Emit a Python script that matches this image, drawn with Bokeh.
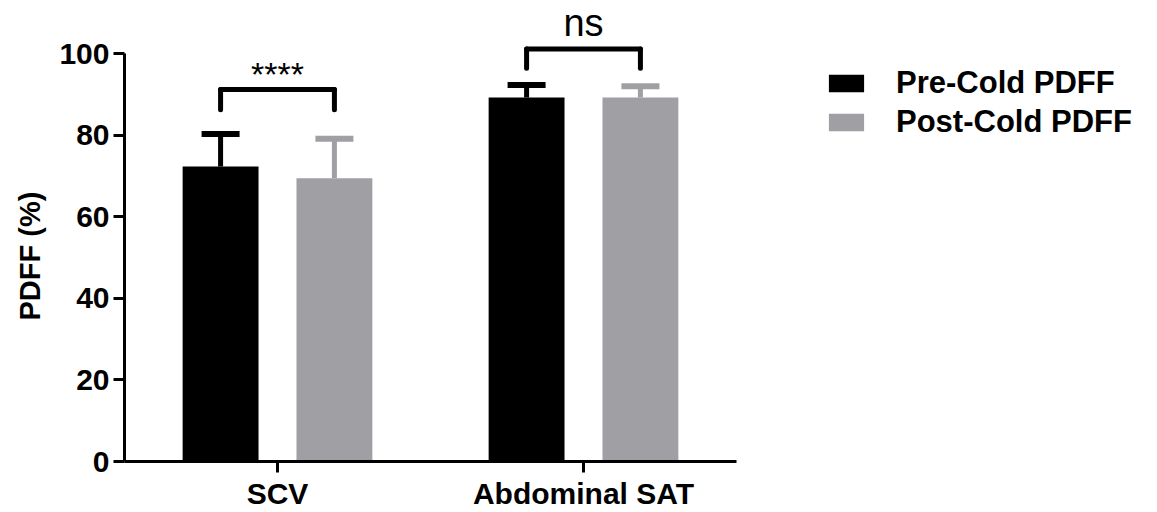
from bokeh.plotting import figure
from bokeh.models import (ColumnDataSource, Whisker, TeeHead, Legend, LegendItem,
                          Title, FixedTicker)
from bokeh.transform import dodge
from bokeh.core.properties import value
from bokeh.embed import file_html
from bokeh.resources import INLINE

# ---- data ----
categories = ["SCV", "Abdominal SAT"]
pre_mean = [72.3, 89.2]
pre_err = [8.0, 3.1]
post_mean = [69.4, 89.2]
post_err = [9.7, 2.8]
series_names = ["Pre-Cold PDFF", "Post-Cold PDFF"]
y_ticks = [0, 20, 40, 60, 80, 100]
sig_labels = ["****", "ns"]
bracket_top = [91.2, 101.1]
bracket_leg = [86.2, 96.4]
sig_text_y = [95.0, 107.6]

FONT = "Liberation Sans"
BLACK = "#000000"
GRAY = "#a0a0a4"
OFF = 0.186
BAR_W = 0.248

p = figure(x_range=categories, y_range=(0, 113), frame_width=612, frame_height=461,
           output_backend="svg", toolbar_location=None,
           min_border_left=123, min_border_right=0, min_border_top=0,
           min_border_bottom=0)
p.outline_line_color = None
p.grid.visible = False
p.background_fill_color = "white"
p.border_fill_color = "white"

pre_src = ColumnDataSource(dict(cat=categories, top=pre_mean,
                                upper=[m + e for m, e in zip(pre_mean, pre_err)]))
post_src = ColumnDataSource(dict(cat=categories, top=post_mean,
                                 upper=[m + e for m, e in zip(post_mean, post_err)]))

r_pre = p.vbar(x=dodge("cat", -OFF, range=p.x_range), top="top", width=BAR_W,
               source=pre_src, fill_color=BLACK, line_color=None)
r_post = p.vbar(x=dodge("cat", OFF, range=p.x_range), top="top", width=BAR_W,
                source=post_src, fill_color=GRAY, line_color=None)

for src, off, col in [(pre_src, -OFF, BLACK), (post_src, OFF, GRAY)]:
    w = Whisker(source=src, base=dodge("cat", off, range=p.x_range),
                lower="top", upper="upper", line_color=col, line_width=5,
                upper_head=TeeHead(size=38, line_width=6, line_color=col),
                lower_head=None)
    p.add_layout(w)

# significance brackets
br = ColumnDataSource(dict(cat=categories, top=bracket_top, leg=bracket_leg))
p.segment(x0=dodge("cat", -OFF, range=p.x_range), x1=dodge("cat", OFF, range=p.x_range),
          y0="top", y1="top", source=br, line_color=BLACK, line_width=5, line_cap="round")
p.segment(x0=dodge("cat", -OFF, range=p.x_range), x1=dodge("cat", -OFF, range=p.x_range),
          y0="top", y1="leg", source=br, line_color=BLACK, line_width=5, line_cap="round")
p.segment(x0=dodge("cat", OFF, range=p.x_range), x1=dodge("cat", OFF, range=p.x_range),
          y0="top", y1="leg", source=br, line_color=BLACK, line_width=5, line_cap="round")

stars_src = ColumnDataSource(dict(cat=categories[:1], ty=sig_text_y[:1], label=sig_labels[:1]))
ns_src = ColumnDataSource(dict(cat=categories[1:], ty=sig_text_y[1:], label=sig_labels[1:]))
p.text(x="cat", y="ty", text="label", source=stars_src, text_align="center",
       text_baseline="alphabetic", text_font=value(FONT), text_font_size="34px",
       text_color=BLACK)
p.text(x="cat", y="ty", text="label", source=ns_src, text_align="center",
       text_baseline="alphabetic", text_font=value(FONT), text_font_size="38px",
       text_color=BLACK)

# axes
for ax in (p.xaxis[0], p.yaxis[0]):
    ax.axis_line_width = 3
    ax.axis_line_color = BLACK
    ax.major_tick_line_width = 3
    ax.major_tick_line_color = BLACK
    ax.major_tick_out = 11
    ax.major_tick_in = 0
    ax.minor_tick_line_color = None
    ax.major_label_text_font = FONT
    ax.major_label_text_font_style = "bold"
    ax.major_label_text_font_size = "30px"
    ax.major_label_text_color = BLACK

p.yaxis.ticker = FixedTicker(ticks=y_ticks)
p.yaxis.bounds = (0, 100)
p.yaxis.major_label_standoff = 4
p.xaxis.major_label_standoff = 4

ytitle = Title(text="PDFF (%)", align="left", offset=141, standoff=22,
               text_font=FONT, text_font_style="bold", text_font_size="29px",
               text_color=BLACK)
p.add_layout(ytitle, "left")

legend = Legend(items=[LegendItem(label=series_names[0], renderers=[r_pre]),
                       LegendItem(label=series_names[1], renderers=[r_post])],
                location=(88, 321))
legend.glyph_width = 44
legend.glyph_height = 22
legend.label_standoff = 28
legend.spacing = 3
legend.padding = 0
legend.margin = 0
legend.border_line_color = None
legend.background_fill_alpha = 0
legend.label_text_font = FONT
legend.label_text_font_style = "bold"
legend.label_text_font_size = "31px"
legend.label_text_color = BLACK
p.add_layout(legend, "right")

open("out.html", "w").write(file_html(p, INLINE))
